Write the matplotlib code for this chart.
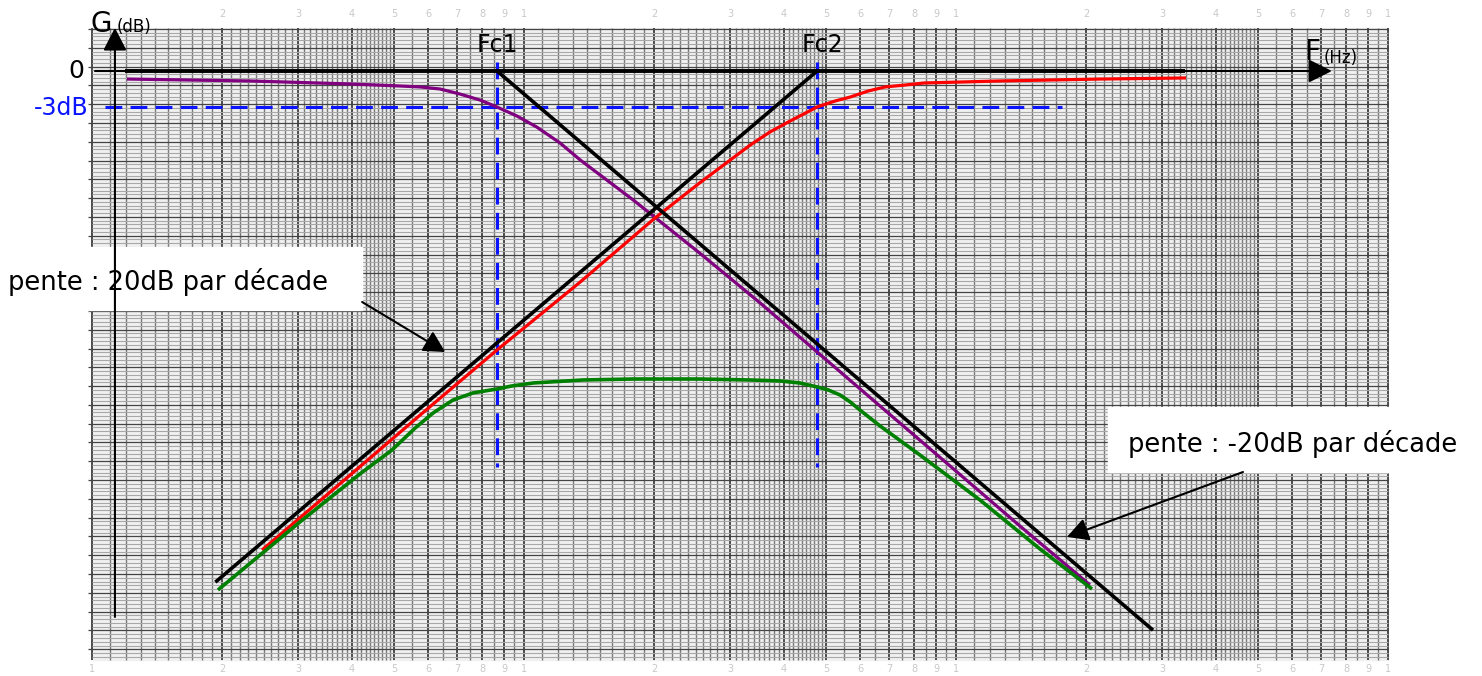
import numpy as np
import matplotlib.pyplot as plt

# diagramme de Bode : passe-bas, passe-haut et passe-bande
fc1 = 8.66   # Hz
fc2 = 47.7   # Hz

# passe-bas (violet)
f_pb = [1.205, 2.32, 3.96, 5.16, 5.75, 6.39, 7.11, 7.91, 8.66, 9.63, 10.7,
        12.12, 13.5, 17.9, 25.5, 35.2, 47.7, 66.7, 96.9, 140.6, 204.2]
g_pb = [-0.67, -0.83, -1.08, -1.25, -1.33, -1.5, -1.92, -2.42, -3.0, -3.75,
        -4.67, -6.0, -7.42, -10.75, -15.17, -19.33, -23.42, -27.92, -32.92,
        -37.92, -42.83]

# passe-haut (rouge)
f_ph = [2.475, 3.96, 5.75, 8.66, 13.5, 20.1, 25.5, 33.4, 37.1, 41.3, 47.7,
        52.5, 56.9, 62.6, 68.5, 76.2, 84.3, 102.2, 126.4, 215.4, 340.8]
g_ph = [-39.92, -33.67, -28.67, -23.25, -17.58, -12.25, -9.33, -6.17, -5.08,
        -4.17, -3.0, -2.5, -2.17, -1.67, -1.33, -1.17, -1.0, -0.92, -0.83,
        -0.67, -0.58]

# passe-bande (vert)
f_bp = [1.957, 3.03, 4.17, 4.95, 5.60, 6.16, 6.85, 7.62, 8.66, 9.37, 10.5,
        13.7, 17.9, 25.5, 33.4, 39.1, 43.5, 47.7, 50.6, 53.9, 56.9, 59.9,
        66.7, 82.5, 113.6, 156.4, 206.5]
g_bp = [-43.25, -37.58, -33.58, -31.58, -29.75, -28.5, -27.42, -26.83, -26.5,
        -26.25, -26.0, -25.75, -25.67, -25.67, -25.75, -25.83, -26.0, -26.33,
        -26.58, -27.0, -27.58, -28.25, -29.58, -32.0, -35.75, -39.83, -43.17]

# asymptotes
f_asym_pb = [fc1, 285.8]
g_asym_pb = [0, -46.6]
f_asym_ph = [1.93, fc2]
g_asym_ph = [-42.6, 0]
f_asym_0 = [1.19, 339]
g_asym_0 = [0, 0]

fig = plt.figure(figsize=(14.82, 6.76), dpi=100)
ax = fig.add_axes([0, 0, 1, 1])
ax.set_xscale('log')
ax.set_xlim(0.6124, 1650.5)
ax.set_ylim(-50.42, 5.917)
ax.axis('off')

# papier semi-log : 3 décades
g_top, g_bot = 3.58, -49.08
xs_major, xs_minor = [], []
for d in [1, 10, 100]:
    for v in np.arange(1, 5, 0.1):
        (xs_major if abs(v - round(v)) < 1e-6 else xs_minor).append(v * d)
    for v in np.arange(5, 10, 0.5):
        (xs_major if abs(v - round(v)) < 1e-6 else xs_minor).append(v * d)
xs_major.append(1000)
ax.fill([1, 1000, 1000, 1], [g_bot, g_bot, g_top, g_top], color='#f0f0f0', zorder=0)
ax.vlines(xs_minor, g_bot, g_top, color='#7a7a7a', lw=1.0, zorder=1)
ax.vlines(xs_major, g_bot, g_top, color='#2e2e2e', lw=1.2, zorder=1)
ys = np.arange(-5.583 + 0.3133 * 30, g_bot, -0.3133)
ys = ys[ys <= g_top]
for i, y in enumerate(ys):
    if i % 5 == 0:
        ax.hlines(y, 0.98, 1000, color='#444444', lw=0.9, zorder=1)
    else:
        ax.hlines(y, 1, 1000, color='#a8a8a8', lw=0.8, zorder=1)

# graduations pâles du papier
for d in [1, 10, 100]:
    for v in range(1, 10):
        if not (d == 1 and v == 1):
            ax.text(v * d, 4.75, str(v), color='#c8c8c8', fontsize=7,
                    ha='center', va='center', zorder=1)
        ax.text(v * d, -49.8, str(v), color='#c8c8c8', fontsize=7,
                ha='center', va='center', zorder=1)
ax.text(1000, 4.75, '1', color='#c8c8c8', fontsize=7, ha='center', va='center', zorder=1)
ax.text(1000, -49.8, '1', color='#c8c8c8', fontsize=7, ha='center', va='center', zorder=1)

# cadres des commentaires
ax.fill([0.596, 4.217, 4.217, 0.596], [-19.92, -19.92, -14.67, -14.67], color='white', zorder=2)
ax.fill([224.8, 1722, 1722, 224.8], [-33.42, -33.42, -28.0, -28.0], color='white', zorder=2)

# axes G et F
ax.annotate('', xy=(1.13, 3.6), xytext=(1.13, -45.5),
            arrowprops=dict(arrowstyle='-|>,head_length=0.7,head_width=0.36',
                            mutation_scale=20, color='black', lw=1.5, shrinkA=0, shrinkB=0),
            zorder=6)
ax.annotate('', xy=(741.6, 0), xytext=(1.016, 0),
            arrowprops=dict(arrowstyle='-|>,head_length=0.72,head_width=0.36',
                            mutation_scale=20, color='black', lw=1.5, shrinkA=0, shrinkB=0),
            zorder=6)

# tirets -3dB et fréquences de coupure
dash = dict(color='#0a14ff', lw=2.2, dashes=(5.5, 2.7), zorder=3)
ax.plot([1.072, 176], [-3, -3], **dash)
ax.plot([fc1, fc1], [0.75, -33], **dash)
ax.plot([fc2, fc2], [0.75, -33], **dash)

# courbes
ax.plot(f_pb, g_pb, color='#800080', lw=2.3, solid_capstyle='butt',
        solid_joinstyle='round', zorder=4)
ax.plot(f_ph, g_ph, color='#ff0000', lw=2.3, solid_capstyle='butt',
        solid_joinstyle='round', zorder=4)
ax.plot(f_bp, g_bp, color='#008000', lw=2.6, solid_capstyle='butt',
        solid_joinstyle='round', zorder=4)

ax.plot(f_asym_0, g_asym_0, color='black', lw=2.8, solid_capstyle='butt', zorder=5)
ax.plot(f_asym_pb, g_asym_pb, color='black', lw=2.6, solid_capstyle='butt', zorder=5)
ax.plot(f_asym_ph, g_asym_ph, color='black', lw=2.6, solid_capstyle='butt', zorder=5)

# textes
ax.text(1.049, 3.92, 'G', fontsize=20, ha='center', va='center', zorder=7)
ax.text(1.143, 3.67, '(dB)', fontsize=12, ha='left', va='center', zorder=7)
ax.text(0.958, 0, '0', fontsize=18, ha='right', va='center', zorder=7)
ax.text(0.984, -3.08, '-3dB', fontsize=17, color='#0a14ff', ha='right', va='center', zorder=7)
ax.text(fc1, 2.17, 'Fc1', fontsize=17, ha='center', va='center', zorder=7)
ax.text(49.0, 2.17, 'Fc2', fontsize=17, ha='center', va='center', zorder=7)
ax.text(667, 1.58, 'F', fontsize=20, ha='center', va='center', zorder=7)
ax.text(711, 1.08, '(Hz)', fontsize=12, ha='left', va='center', zorder=7)

ax.text(0.639, -17.58, 'pente : 20dB par décade', fontsize=18.5, ha='left', va='center', zorder=7)
ax.text(250, -31.08, 'pente : -20dB par décade', fontsize=18.5, ha='left', va='center', zorder=7)

arrow = dict(arrowstyle='-|>,head_length=0.65,head_width=0.35', mutation_scale=20,
             color='black', lw=1.5, shrinkA=0, shrinkB=0)
ax.annotate('', xy=(6.57, -23.42), xytext=(4.22, -19.25), arrowprops=arrow, zorder=7)
ax.annotate('', xy=(180.7, -38.83), xytext=(461.7, -33.42), arrowprops=arrow, zorder=7)

fig.savefig('out.png', dpi=100)
